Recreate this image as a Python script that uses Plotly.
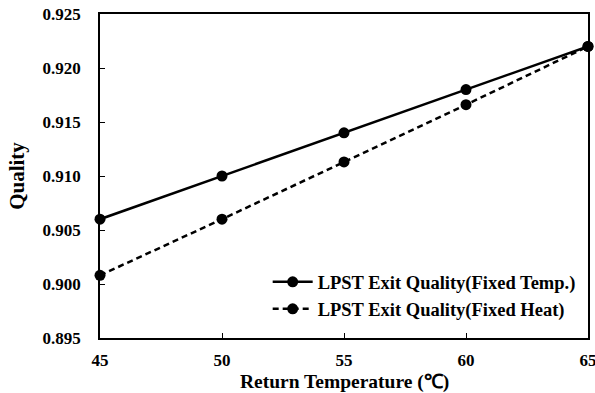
import plotly.graph_objects as go

temps = [45, 50, 55, 60, 65]
fixed_temp = [0.906, 0.910, 0.914, 0.918, 0.922]
fixed_heat = [0.9008, 0.9060, 0.9113, 0.9166, 0.922]
series_names = ["LPST Exit Quality(Fixed Temp.)", "LPST Exit Quality(Fixed Heat)"]
y_ticks = [0.895, 0.900, 0.905, 0.910, 0.915, 0.920, 0.925]
x_ticks = [45, 50, 55, 60, 65]

font_fam = "Liberation Serif"

fig = go.Figure()
fig.add_trace(go.Scatter(x=temps, y=fixed_temp, name=series_names[0], mode="lines+markers",
                         line=dict(color="black", width=2.5),
                         marker=dict(color="black", size=11)))
fig.add_trace(go.Scatter(x=temps, y=fixed_heat, name=series_names[1], mode="lines+markers",
                         line=dict(color="black", width=2.5, dash="6px,4px"),
                         marker=dict(color="black", size=11)))

fig.update_layout(
    width=595, height=393,
    margin=dict(l=100, r=7, t=14, b=55, autoexpand=False),
    paper_bgcolor="white", plot_bgcolor="white",
    font=dict(family=font_fam, color="black"),
    showlegend=True,
    legend=dict(x=0.985, y=0.03, xanchor="right", yanchor="bottom",
                font=dict(family=font_fam, size=18.5, color="black", weight="bold"),
                bgcolor="rgba(255,255,255,0)", tracegroupgap=2, itemwidth=40),
    xaxis=dict(range=[45, 65], tickvals=x_ticks, ticktext=[str(v) for v in x_ticks],
               automargin=False, ticklabeloverflow="allow",
               showgrid=False, zeroline=False, showline=True, linecolor="black", linewidth=1.5,
               mirror=True, ticks="inside", ticklen=5, tickcolor="black",
               tickfont=dict(family=font_fam, size=17, color="black", weight="bold"),
               ticklabelstandoff=6),
    yaxis=dict(range=[0.895, 0.925], tickvals=y_ticks, ticktext=[f"{v:.3f}" for v in y_ticks],
               automargin=False,
               showgrid=False, zeroline=False, showline=True, linecolor="black", linewidth=1.5,
               mirror=True, ticks="inside", ticklen=5, tickcolor="black",
               tickfont=dict(family=font_fam, size=17, color="black", weight="bold"),
               ticklabelstandoff=14,
               title=dict(text="Quality", standoff=12,
                          font=dict(family=font_fam, size=21, color="black", weight="bold"))),
)
fig.add_annotation(text="Return Temperature (℃)", xref="paper", yref="paper", x=0.5, y=-0.135,
                   xanchor="center", yanchor="middle", showarrow=False,
                   font=dict(family=font_fam, size=19.5, color="black", weight="bold"))
fig.update_traces(cliponaxis=False)
fig.write_html("out.html")
